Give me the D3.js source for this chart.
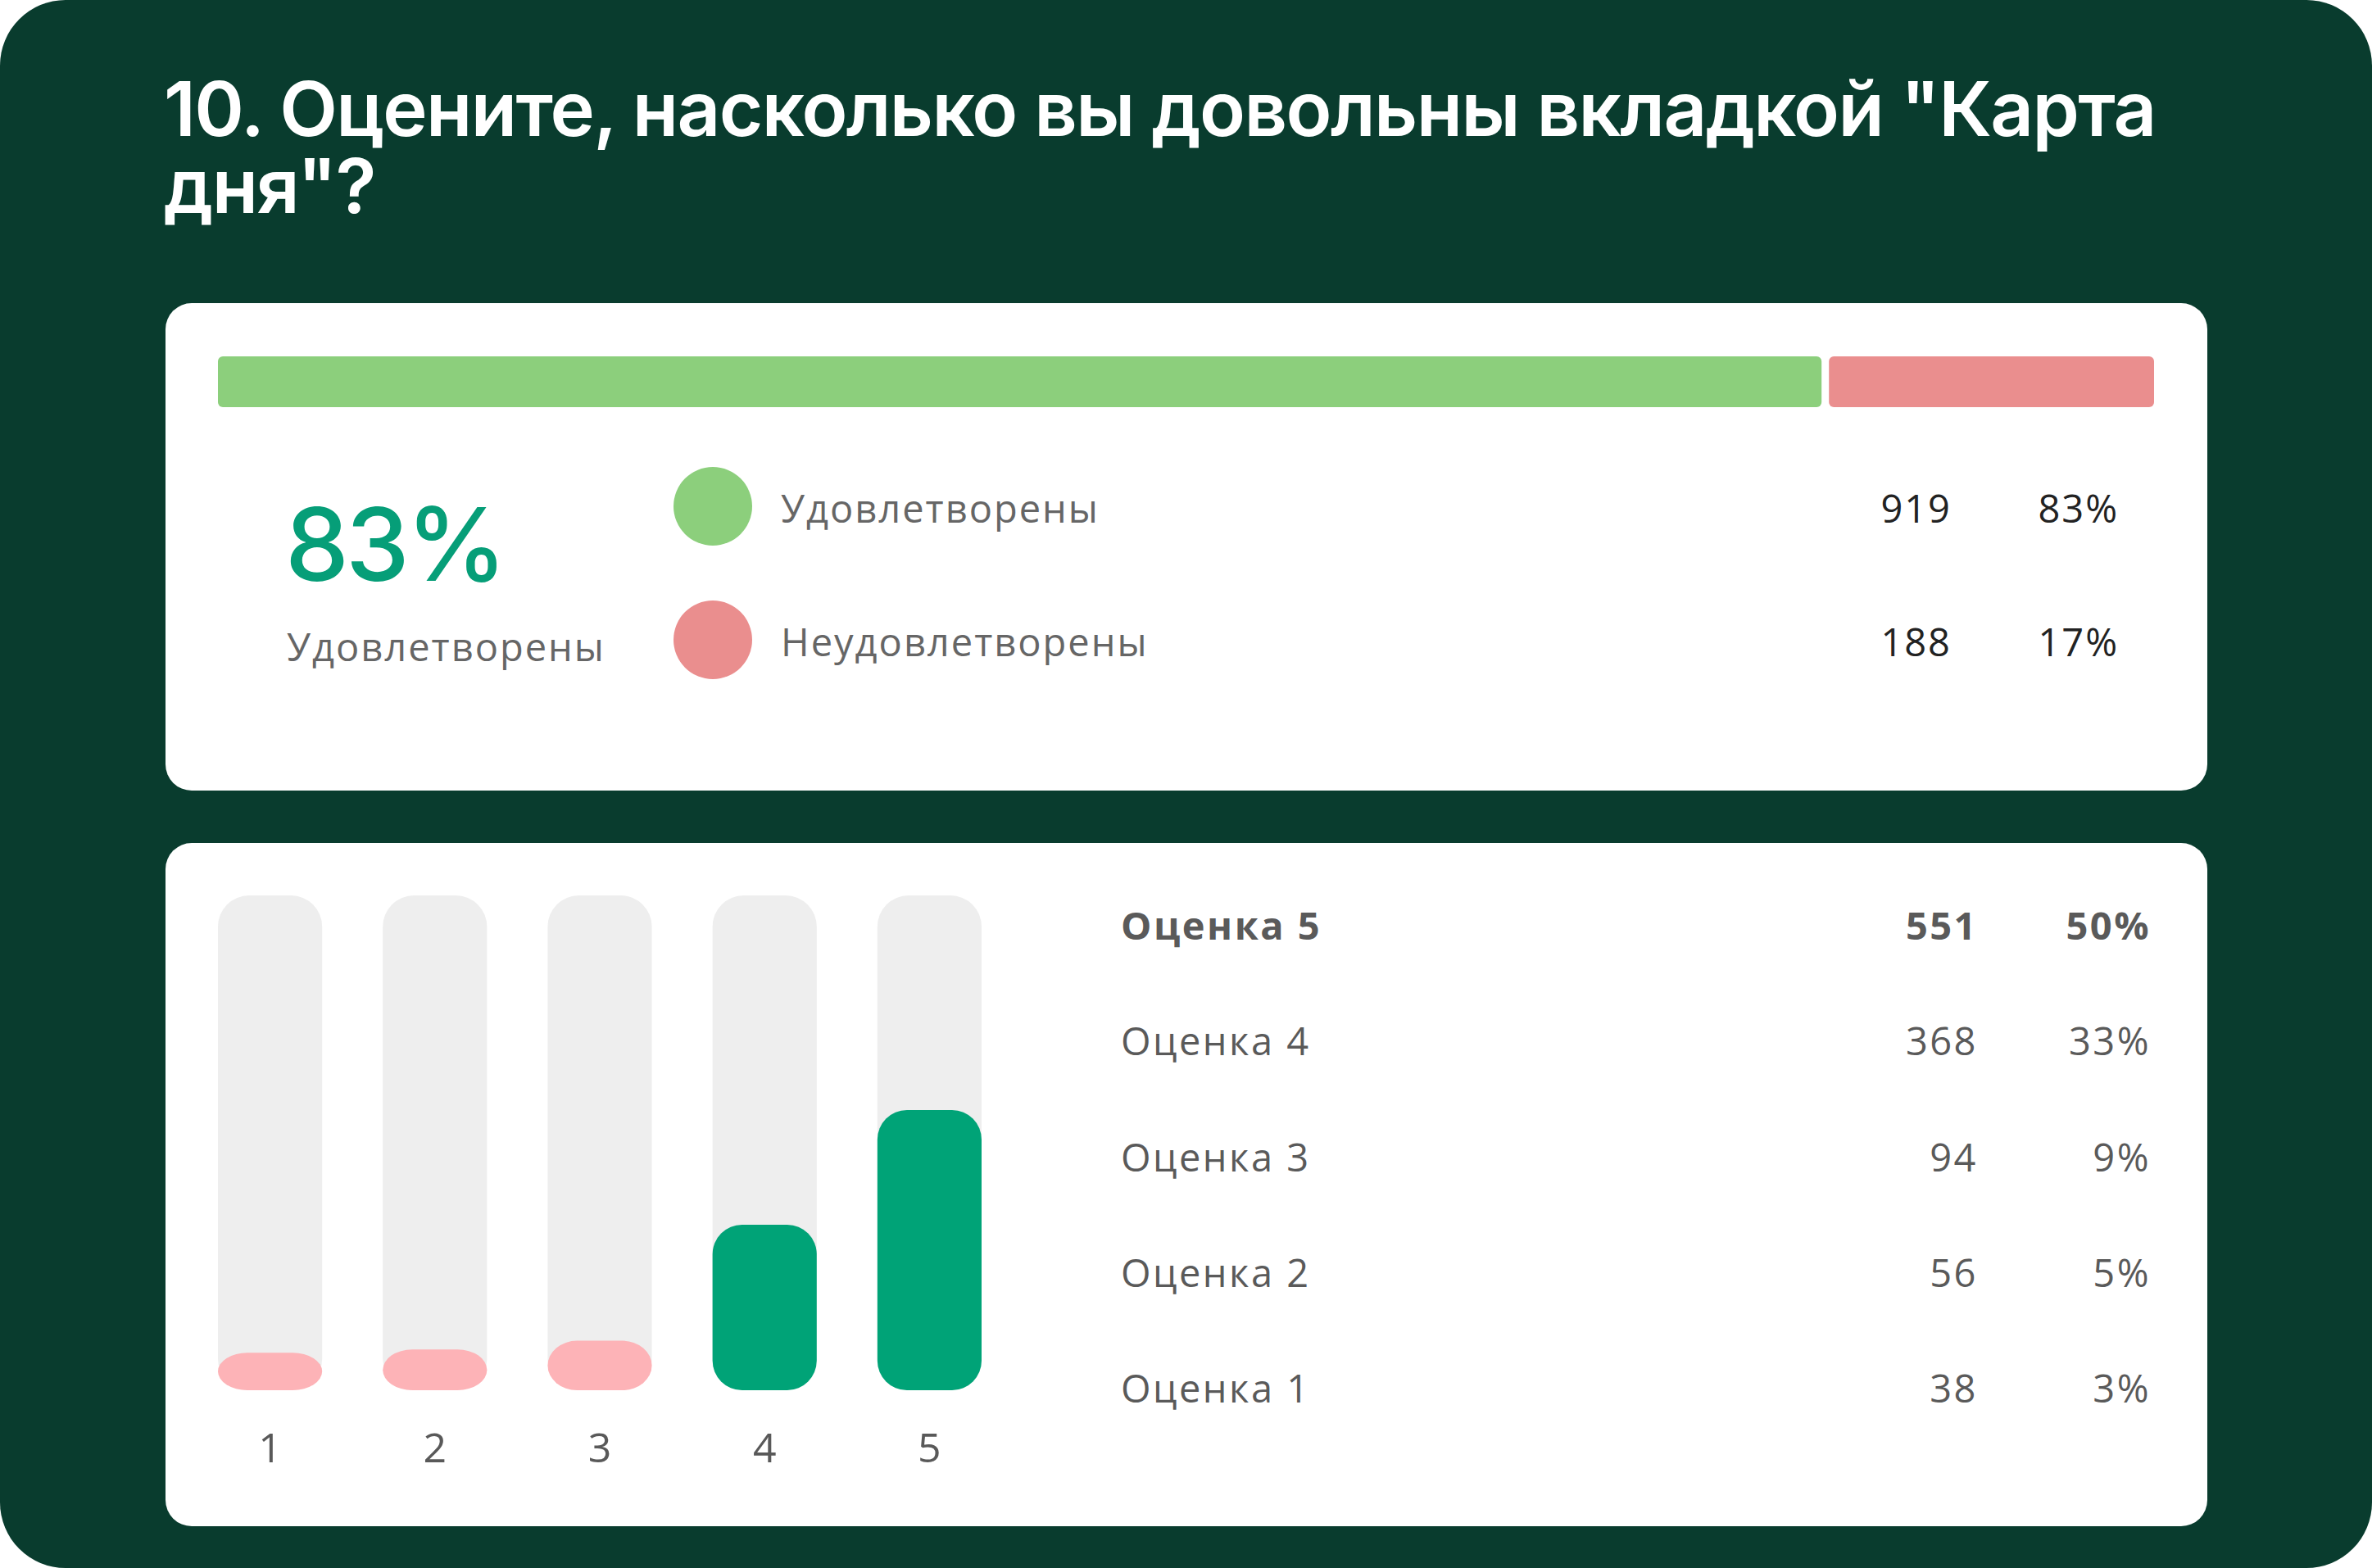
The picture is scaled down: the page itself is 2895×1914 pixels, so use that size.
<!DOCTYPE html>
<html>
<head>
<meta charset="utf-8">
<script src="https://cdn.jsdelivr.net/npm/d3@7"></script>
<style>
  html, body { margin: 0; padding: 0; background: #ffffff; }
  svg { display: block; }
</style>
</head>
<body>
<div id="chart"></div>
<script>
// data
var titleLines = ['10. Оцените, насколько вы довольны вкладкой "Карта', 'дня"?'];

var satLabels = ["Удовлетворены", "Неудовлетворены"];
var satCounts = [919, 188];
var satPct = ["83%", "17%"];
var satColors = ["#8ccf7c", "#ea8e8e"];
var headline = "83%";

var grades = ["1", "2", "3", "4", "5"];
var gradeCounts = [38, 56, 94, 368, 551];
var gradePct = ["3%", "5%", "9%", "33%", "50%"];
var gradeColors = ["#fdb3b7", "#fdb3b7", "#fdb3b7", "#00a377", "#00a377"];

var W = 2895, H = 1914;
var bodyFont = "'Open Sans', 'Noto Sans', sans-serif";
var headFont = "Inter, 'Noto Sans', sans-serif";

var svg = d3.select("#chart")
  .append("svg")
    .attr("width", W)
    .attr("height", H);

// dark page
svg.append("rect")
  .attr("width", W).attr("height", H)
  .attr("rx", 80)
  .attr("fill", "#093c2e");

// title, one text element with a line per tspan
svg.append("text")
  .attr("font-family", headFont)
  .attr("font-weight", 600)
  .attr("font-size", 92)
  .attr("letter-spacing", -1.6)
  .attr("fill", "#ffffff")
  .selectAll("tspan")
  .data(titleLines)
  .enter()
  .append("tspan")
    .attr("x", 200)
    .attr("y", function (d, i) { return 166 + i * 94; })
    .text(function (d) { return d; });

// cards
var cards = [{y: 370, h: 595}, {y: 1029, h: 834}];
svg.append("g")
  .selectAll("rect")
  .data(cards)
  .enter()
  .append("rect")
    .attr("x", 202)
    .attr("y", function (d) { return d.y; })
    .attr("width", 2492)
    .attr("height", function (d) { return d.h; })
    .attr("rx", 32)
    .attr("fill", "#ffffff");

// ---- card 1: stacked bar
var total = d3.sum(satCounts);
var x = d3.scaleLinear()
  .domain([0, total])
  .range([266, 2629]);
var gap = 9;
var stack = [];
var acc = 0;
satCounts.forEach(function (v, i) {
  stack.push({x0: acc, x1: acc + v, i: i});
  acc += v;
});
svg.append("g")
  .selectAll("rect")
  .data(stack)
  .enter()
  .append("rect")
    .attr("x", function (d) { return x(d.x0) + (d.i > 0 ? gap / 2 : 0); })
    .attr("width", function (d) {
      return x(d.x1) - x(d.x0) - (d.i > 0 ? gap / 2 : 0) - (d.i < stack.length - 1 ? gap / 2 : 0);
    })
    .attr("y", 435)
    .attr("height", 62)
    .attr("rx", 6)
    .attr("fill", function (d) { return satColors[d.i]; });

svg.append("text")
  .attr("x", 348)
  .attr("y", 709)
  .attr("font-family", headFont)
  .attr("font-weight", 500)
  .attr("font-size", 124)
  .attr("letter-spacing", -4)
  .attr("fill", "#069e78")
  .text(headline);

svg.append("text")
  .attr("x", 350)
  .attr("y", 807)
  .attr("font-family", bodyFont)
  .attr("font-size", 47)
  .attr("letter-spacing", 2)
  .attr("fill", "#666666")
  .text(satLabels[0]);

var legY = d3.scalePoint()
  .domain(satLabels)
  .range([618, 781]);

var leg = svg.append("g")
  .selectAll("g")
  .data(satLabels)
  .enter()
  .append("g")
    .attr("transform", function (d) { return "translate(0," + legY(d) + ")"; })
    .attr("font-family", bodyFont)
    .attr("font-size", 47)
    .attr("letter-spacing", 2);

leg.append("circle")
  .attr("cx", 870)
  .attr("r", 48)
  .attr("fill", function (d, i) { return satColors[i]; });

leg.append("text")
  .attr("x", 953)
  .attr("y", 20)
  .attr("fill", "#666666")
  .text(function (d) { return d; });

leg.append("text")
  .attr("x", 2382)
  .attr("y", 20)
  .attr("text-anchor", "end")
  .attr("fill", "#222222")
  .text(function (d, i) { return satCounts[i]; });

leg.append("text")
  .attr("x", 2586)
  .attr("y", 20)
  .attr("text-anchor", "end")
  .attr("fill", "#222222")
  .text(function (d, i) { return satPct[i]; });

// ---- card 2: vertical bars
var trackTop = 1093, trackBottom = 1697;
var xb = d3.scaleBand()
  .domain(grades)
  .range([266, 1198])
  .paddingInner(0.368)
  .paddingOuter(0);

var yh = d3.scalePow()
  .exponent(1.55)
  .domain([0, d3.max(gradeCounts)])
  .range([41, 342]);

svg.append("g")
  .selectAll("rect")
  .data(grades)
  .enter()
  .append("rect")
    .attr("x", function (d) { return xb(d); })
    .attr("y", trackTop)
    .attr("width", xb.bandwidth())
    .attr("height", trackBottom - trackTop)
    .attr("rx", 38)
    .attr("fill", "#eeeeee");

svg.append("g")
  .selectAll("rect")
  .data(grades)
  .enter()
  .append("rect")
    .attr("x", function (d) { return xb(d); })
    .attr("y", function (d, i) { return trackBottom - yh(gradeCounts[i]); })
    .attr("width", xb.bandwidth())
    .attr("height", function (d, i) { return yh(gradeCounts[i]); })
    .attr("rx", 36)
    .attr("fill", function (d, i) { return gradeColors[i]; });

var axis = svg.append("g")
  .attr("transform", "translate(0," + 1785 + ")")
  .call(d3.axisBottom(xb).tickSize(0).tickPadding(0));
axis.select(".domain").remove();
axis.selectAll("text")
  .attr("dy", 0)
  .attr("y", 0)
  .attr("font-family", bodyFont)
  .attr("font-size", 50)
  .attr("fill", "#595959");

// table, highest grade first
var rows = grades.map(function (g, i) {
  return {label: "Оценка " + g, count: gradeCounts[i], pct: gradePct[i]};
}).reverse();

var rowY = d3.scalePoint()
  .domain(rows.map(function (d) { return d.label; }))
  .range([1147, 1712]);

var row = svg.append("g")
  .selectAll("g")
  .data(rows)
  .enter()
  .append("g")
    .attr("transform", function (d) { return "translate(0," + rowY(d.label) + ")"; })
    .attr("font-family", bodyFont)
    .attr("font-size", 47)
    .attr("letter-spacing", 2.5)
    .attr("font-weight", function (d, i) { return i === 0 ? 700 : 400; })
    .attr("fill", "#5a5a5a");

row.append("text")
  .attr("x", 1368)
  .text(function (d) { return d.label; });
row.append("text")
  .attr("x", 2414)
  .attr("text-anchor", "end")
  .text(function (d) { return d.count; });
row.append("text")
  .attr("x", 2625)
  .attr("text-anchor", "end")
  .text(function (d) { return d.pct; });
</script>
</body>
</html>
